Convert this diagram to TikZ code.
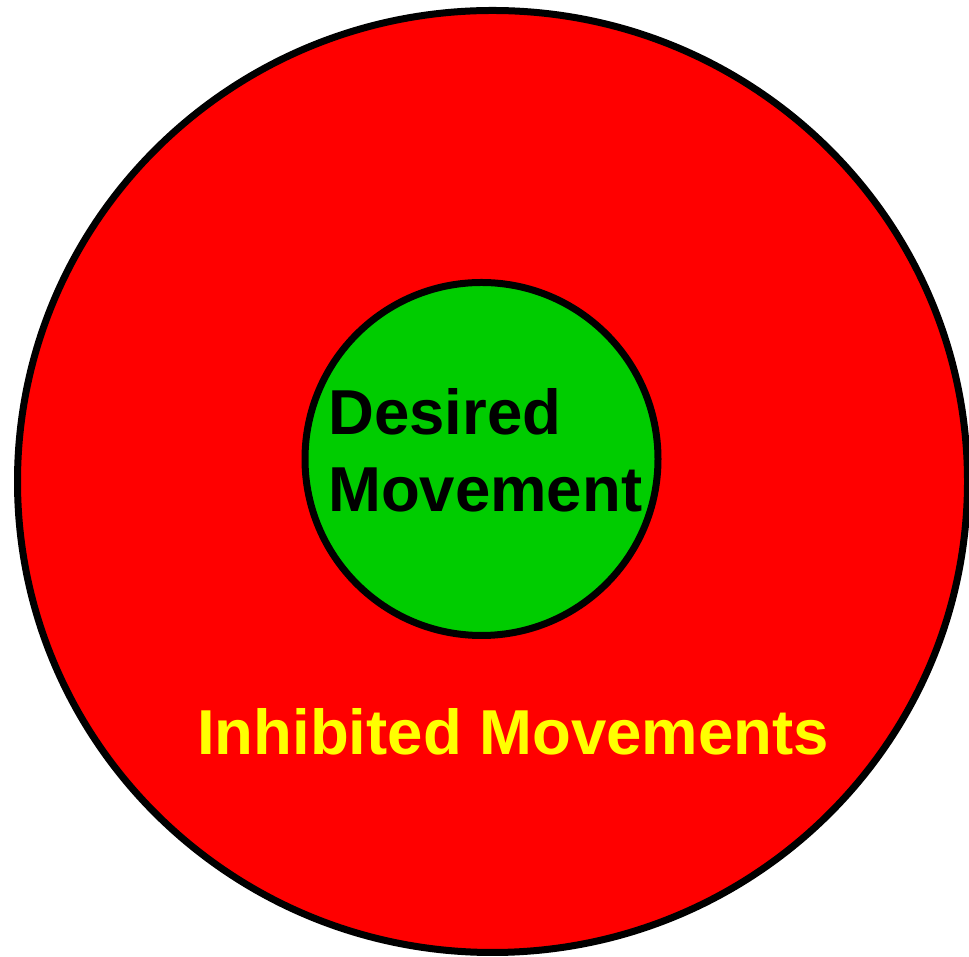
\documentclass[tikz,border=0pt]{standalone}
\usepackage{fontspec}
\setmainfont{Liberation Sans}
\usepackage{xcolor}
\usetikzlibrary{positioning}

\definecolor{inhibred}{HTML}{FF0000}
\definecolor{desiredgreen}{HTML}{00CC00}
\definecolor{labelyellow}{HTML}{FFFF00}

\begin{document}
\begin{tikzpicture}[x=1pt,y=1pt,
    ring/.style={draw=black,line width=7pt},
    bigword/.style={font=\fontsize{63.5}{77}\selectfont\bfseries,inner sep=0pt,anchor=base west}]
  \useasboundingbox (0,0) rectangle (969,957);
  % outer zone
  \draw[ring,fill=inhibred] (492.5,475.5) ellipse [x radius=475,y radius=471];
  % inner zone
  \draw[ring,fill=desiredgreen] (481.5,498) circle (176.5);
  \node[bigword] (desired) at (328,522) {Desired};
  \node[bigword] (movement) at ([yshift=-77pt]desired.base west) {Movement};
  \node[bigword,labelyellow] (inhibited) at (197,202) {Inhibited Movements};
\end{tikzpicture}
\end{document}
